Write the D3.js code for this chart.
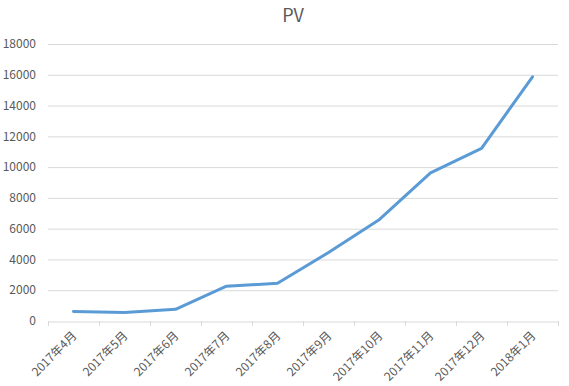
<!DOCTYPE html>
<html>
<head>
<meta charset="utf-8">
<script src="https://cdn.jsdelivr.net/npm/d3@7"></script>
<style>
  body { margin: 0; background: #fff; }
  svg text { font-family: "Noto Sans CJK SC", "Microsoft YaHei", sans-serif; fill: #595959; }
</style>
</head>
<body>
<figure id="line" style="margin:0"></figure>
<script>
// chart data
const months = ["2017年4月", "2017年5月", "2017年6月", "2017年7月", "2017年8月",
  "2017年9月", "2017年10月", "2017年11月", "2017年12月", "2018年1月"];
const pv = [620, 560, 760, 2260, 2450, 4450, 6600, 9620, 11220, 15870];
const yTicks = [0, 2000, 4000, 6000, 8000, 10000, 12000, 14000, 16000, 18000];

const width = 569, height = 386;
const margin = {top: 44, right: 11, bottom: 65, left: 48};
const w = width - margin.left - margin.right;
const h = height - margin.top - margin.bottom;

const svg = d3.select("figure#line")
  .append("svg")
  .attr("width", width)
  .attr("height", height);

svg.append("text")
  .attr("x", 293)
  .attr("y", 22)
  .attr("text-anchor", "middle")
  .style("font-size", "18px")
  .text("PV");

const g = svg.append("g")
  .attr("transform", "translate(" + margin.left + "," + margin.top + ")");

const x = d3.scaleBand()
  .range([0, w])
  .domain(months);

const y = d3.scaleLinear()
  .domain([0, 18000])
  .range([h, 0]);

// gridlines
g.selectAll("line.grid")
  .data(yTicks.slice(1))
  .enter()
  .append("line")
    .attr("class", "grid")
    .attr("x1", 0)
    .attr("x2", w)
    .attr("y1", d => y(d) + 0.5)
    .attr("y2", d => y(d) + 0.5)
    .attr("stroke", "#d9d9d9")
    .attr("stroke-width", 1);

// y labels
g.selectAll("text.ylab")
  .data(yTicks)
  .enter()
  .append("text")
    .attr("class", "ylab")
    .attr("x", -12)
    .attr("y", d => y(d))
    .attr("dy", "0.35em")
    .attr("text-anchor", "end")
    .style("font-size", "12px")
    .text(d => d);

// x axis
const xAxis = g.append("g")
  .attr("transform", "translate(0," + (h + 0.5) + ")")
  .call(d3.axisBottom(x).tickSize(0).tickSizeOuter(0));
xAxis.select(".domain").attr("stroke", "#d9d9d9");
xAxis.selectAll("text")
  .style("font-size", "12px")
  .attr("y", 0)
  .attr("dy", "0.35em")
  .attr("transform", "translate(1,12)rotate(-45)")
  .style("text-anchor", "end");

// tick marks between categories
const edges = months.map(m => x(m)).concat([w]);
g.selectAll("line.xt")
  .data(edges)
  .enter()
  .append("line")
    .attr("class", "xt")
    .attr("x1", d => d + 0.5)
    .attr("x2", d => d + 0.5)
    .attr("y1", h)
    .attr("y2", h + 5)
    .attr("stroke", "#d9d9d9");

// line
const line = d3.line()
  .x((d, i) => x(months[i]) + x.bandwidth() / 2)
  .y(d => y(d));

g.append("path")
  .datum(pv)
  .attr("fill", "none")
  .attr("stroke", "#5b9bd5")
  .attr("stroke-width", 3)
  .attr("stroke-linejoin", "round")
  .attr("stroke-linecap", "round")
  .attr("d", line);
</script>
</body>
</html>
